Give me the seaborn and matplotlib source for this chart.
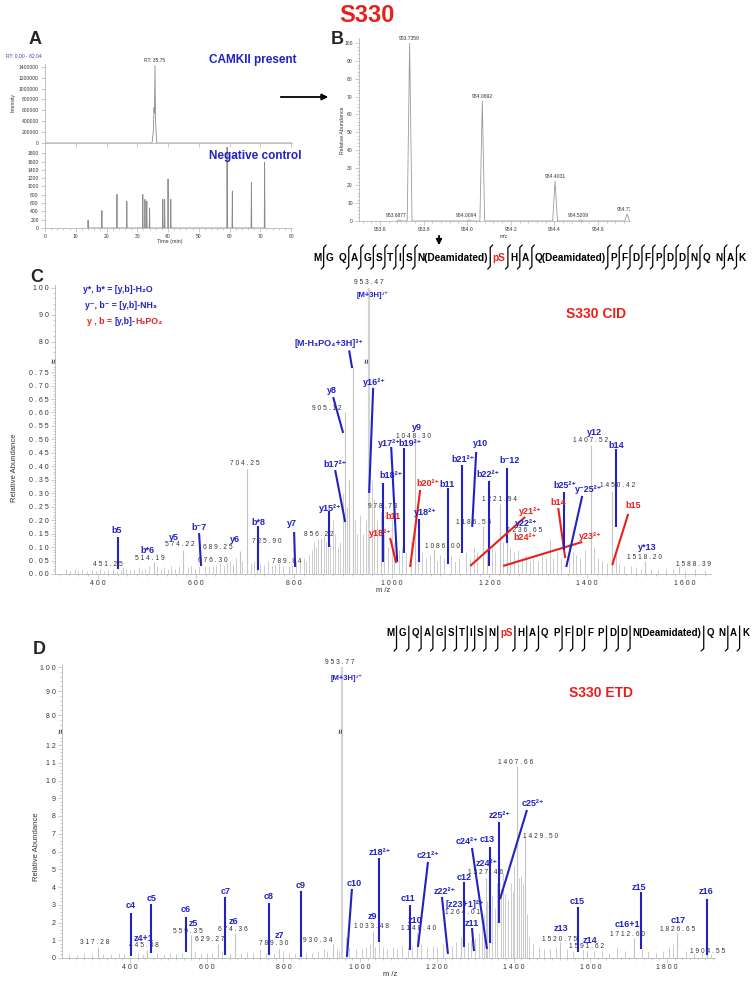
import numpy as np
import pandas as pd
import matplotlib
matplotlib.use("Agg")
import matplotlib.pyplot as plt
import seaborn as sns
from matplotlib.lines import Line2D
from matplotlib.patches import FancyArrowPatch
from matplotlib.transforms import blended_transform_factory

NAN = float("nan")
# ============================ DATA ============================
# ---- Panel A: extracted ion chromatograms ----
a_top_time = [0.0, 34.8, 35.2, 35.45, 35.6, 35.75, 35.95, 36.3, 82.0]
a_top_int = [0, 0, 200000, 650000, 550000, 1420000, 400000, 0, 0]
a_neg_time = [14.0, 18.5, 23.4, 26.6, 31.8, 32.5, 33.1, 34.0, 38.3, 38.9, 40.0, 40.9, 59.2, 60.9, 67.1, 71.4]
a_neg_int = [190, 420, 810, 645, 810, 690, 650, 480, 690, 690, 1180, 690, 1950, 890, 1100, 1580]
a_xticks = [0, 10, 20, 30, 40, 50, 60, 70, 80]
a_top_yticks = [0, 200000, 400000, 600000, 800000, 1000000, 1200000, 1400000]
a_neg_yticks = [0, 200, 400, 600, 800, 1000, 1200, 1400, 1600, 1800]

# ---- Panel B: precursor isotope cluster ----
b_mz = [953.6877, 953.7359, 954.0094, 954.0692, 954.4031, 954.5209, 954.7336]
b_abund = [0.6, 100.0, 0.6, 67.5, 22.5, 0.6, 4.0]
b_xticks = [953.6, 953.8, 954.0, 954.2, 954.4, 954.6]
b_yticks = [0, 10, 20, 30, 40, 50, 60, 70, 80, 90, 100]

# ---- Panel C: CID spectrum ----
c_main_mz = [451.25, 514.19, 574.22, 676.30, 689.25, 704.25, 725.90, 789.84, 856.22, 905.12, 913.0,
             920.8, 978.73, 1048.30, 1086.00, 1186.54, 1221.94, 1236.65, 1407.52, 1450.42, 1518.20, 1588.39]
c_main_int = [0.025, 0.045, 0.09, 0.035, 0.085, 0.39, 0.10, 0.03, 0.13, 0.60, 0.35,
              0.77, 0.23, 0.50, 0.09, 0.18, 0.26, 0.15, 0.48, 0.31, 0.05, 0.025]
c_precursor_mz = 953.47
c_precursor_int = 100.0
c_minor_peaks = [
    (335, .02), (342, .012), (352, .018), (360, .01), (368, .02), (378, .012), (388, .016), (396, .01),
    (405, .02), (412, .012), (420, .015), (430, .02), (438, .01), (446, .015), (458, .02), (466, .014),
    (474, .018), (483, .025), (490, .015), (497, .02), (505, .03), (521, .03), (528, .02), (535, .025),
    (542, .02), (550, .03), (558, .02), (565, .03), (583, .025), (590, .03), (598, .02), (606, .03),
    (618, .03), (626, .025), (634, .03), (642, .035), (650, .04), (658, .03), (664, .04), (670, .05),
    (682, .06), (695, .05), (712, .04), (718, .05), (732, .04), (740, .035), (748, .05), (756, .03),
    (762, .035), (770, .04), (778, .03), (797, .035), (805, .05), (812, .04), (820, .06), (826, .05),
    (832, .07), (838, .09), (842, .12), (846, .10), (850, .13), (862, .14), (866, .12), (870, .10),
    (875, .11), (880, .20), (884, .15), (890, .10), (895, .12), (900, .30), (909, .25), (925, .20),
    (930, .15), (936, .22), (942, .15), (948, .20), (960, .35), (965, .28), (970, .20), (985, .15),
    (992, .10), (1000, .20), (1005, .12), (1015, .09), (1022, .10), (1030, .08), (1040, .12), (1055, .10),
    (1062, .08), (1070, .06), (1078, .07), (1092, .05), (1100, .07), (1108, .06), (1122, .07), (1130, .05),
    (1138, .06), (1152, .08), (1160, .06), (1168, .10), (1175, .08), (1195, .09), (1205, .10), (1212, .08),
    (1228, .12), (1243, .10), (1250, .08), (1258, .09), (1266, .06), (1275, .07), (1283, .05), (1290, .06),
    (1300, .05), (1308, .07), (1315, .06), (1324, .13), (1330, .06), (1338, .08), (1346, .06), (1362, .10),
    (1370, .08), (1378, .07), (1386, .06), (1395, .09), (1414, .10), (1422, .06), (1430, .05), (1440, .04),
    (1458, .07), (1465, .04), (1475, .03), (1490, .03), (1500, .025), (1510, .02), (1530, .02), (1545, .015),
    (1560, .02), (1575, .02), (1600, .015), (1620, .02), (1640, .015)]
c_value_labels = ["451.25", "514.19", "574.22", "676.30", "689.25", "704.25", "725.90", "789.84", "856.22",
                  "905.12", "953.47", "978.73", "1048.30", "1086.00", "1186.54", "1221.94", "1236.65",
                  "1407.52", "1450.42", "1518.20", "1588.39"]
c_value_x = [420.4, 506.3, 567.7, 635.2, 645.4, 700.6, 745.6, 786.5, 851.9, 868.3, 954.2, 982.8, 1044.2,
             1103.5, 1166.9, 1220.0, 1271.2, 1406.1, 1461.3, 1516.6, 1616.8]
c_value_y = [0.037, 0.059, 0.108, 0.052, 0.097, 0.412, 0.119, 0.048, 0.145, 0.613, 101.9, 0.249, 0.512,
             0.104, 0.193, 0.278, 0.163, 0.494, 0.330, 0.063, 0.037]
# (label, colour, label m/z, label y, line start m/z, y, line end m/z, y)
c_ions = [
    ("b5", "B", 438.9, 0.163, 440.9, 0.137, 440.9, 0.019),
    ("b*6", "B", 500.2, 0.089, NAN, NAN, NAN, NAN),
    ("y5", "B", 555.4, 0.137, NAN, NAN, NAN, NAN),
    ("b⁻7", "B", 606.5, 0.171, 606.5, 0.152, 610.6, 0.030),
    ("y6", "B", 680.2, 0.130, NAN, NAN, NAN, NAN),
    ("b*8", "B", 727.2, 0.193, 727.2, 0.178, 727.2, 0.015),
    ("y7", "B", 796.7, 0.186, 800.8, 0.156, 802.9, 0.026),
    ("y15²⁺", "B", 874.4, 0.245, 872.4, 0.234, 872.4, 0.100),
    ("b17²⁺", "B", 884.7, 0.408, 884.7, 0.386, 905.1, 0.193),
    ("y8", "B", 878.5, 0.680, 880.6, 0.657, 901.0, 0.524),
    ("[M-H₃PO₄+3H]³⁺", "B", 872.4, 79.3, 913.3, 76.7, 919.4, 0.765),
    ("y16²⁺", "B", 964.4, 0.713, 962.4, 0.691, 954.2, 0.301),
    ("[M+3H]³⁺", "B", 960.3, 97.0, NAN, NAN, NAN, NAN),
    ("y17²⁺", "B", 995.0, 0.486, 999.2, 0.472, 1011.5, 0.045),
    ("b19²⁺", "B", 1038.0, 0.486, 1025.8, 0.468, 1025.8, 0.078),
    ("y9", "B", 1052.4, 0.546, NAN, NAN, NAN, NAN),
    ("b18²⁺", "B", 999.0, 0.364, 982.8, 0.338, 982.8, 0.045),
    ("b11", "R", 1003.3, 0.212, NAN, NAN, NAN, NAN),
    ("y18²⁺", "R", 976.7, 0.149, 997.1, 0.134, 1009.4, 0.041),
    ("b20²⁺", "R", 1074.8, 0.338, 1058.5, 0.312, 1038.0, 0.026),
    ("y18²⁺", "B", 1068.7, 0.227, 1056.4, 0.204, 1056.4, 0.045),
    ("b11", "B", 1113.7, 0.334, 1115.7, 0.319, 1115.7, 0.037),
    ("b21²⁺", "B", 1146.4, 0.427, 1144.4, 0.405, 1144.4, 0.078),
    ("y10", "B", 1181.2, 0.483, 1173.0, 0.453, 1164.8, 0.175),
    ("b22²⁺", "B", 1197.5, 0.371, 1199.6, 0.345, 1199.6, 0.030),
    ("b⁻12", "B", 1240.5, 0.420, 1236.4, 0.394, 1236.4, 0.115),
    ("y21²⁺", "R", 1283.4, 0.234, 1273.2, 0.212, 1160.7, 0.030),
    ("y22²⁺", "B", 1275.3, 0.189, NAN, NAN, NAN, NAN),
    ("b24²⁺", "R", 1273.2, 0.134, NAN, NAN, NAN, NAN),
    ("y23²⁺", "R", 1406.1, 0.141, 1389.8, 0.119, 1228.2, 0.030),
    ("b14", "R", 1340.7, 0.264, 1340.7, 0.245, 1355.0, 0.059),
    ("b25²⁺", "B", 1355.0, 0.330, 1353.0, 0.304, 1353.0, 0.089),
    ("y⁻25²⁺", "B", 1402.0, 0.312, 1389.8, 0.290, 1357.1, 0.026),
    ("y12", "B", 1414.3, 0.524, NAN, NAN, NAN, NAN),
    ("b14", "B", 1459.3, 0.479, 1459.3, 0.464, 1459.3, 0.175),
    ("b15", "R", 1494.1, 0.253, 1483.8, 0.223, 1451.1, 0.033),
    ("y*13", "B", 1522.7, 0.097, NAN, NAN, NAN, NAN),
]
c_xticks = [400, 600, 800, 1000, 1200, 1400, 1600]
c_yticks = [0.00, 0.05, 0.10, 0.15, 0.20, 0.25, 0.30, 0.35, 0.40, 0.45, 0.50, 0.55, 0.60, 0.65, 0.70, 0.75,
            80, 90, 100]
c_seq = ["M", "G", "Q", "A", "G", "S", "T", "I", "S", "N(Deamidated)", "pS", "H", "A", "Q(Deamidated)",
         "P", "F", "D", "F", "P", "D", "D", "N", "Q", "N", "A", "K"]
c_seq_cuts = [1, 0, 1, 1, 1, 1, 1, 1, 1, 1, 1, 1, 1, 1, 1, 1, 1, 1, 1, 1, 1, 1, 0, 1, 1]

# ---- Panel D: ETD spectrum ----
d_main_mz = [317.28, 445.38, 559.35, 629.27, 674.36, 789.30, 930.34, 1033.48, 1148.40, 1264.01,
             1327.46, 1407.66, 1429.50, 1520.75, 1591.62, 1712.60, 1826.65, 1904.55]
d_main_int = [0.6, 0.45, 1.3, 0.8, 1.4, 0.5, 0.8, 1.5, 1.4, 1.2, 4.5, 10.8, 6.8, 0.9, 0.4, 1.1, 1.4, 0.3]
d_precursor_mz = 952.9
d_precursor_int = 100.0
d_minor_peaks = [
    (240, .2), (262, .15), (280, .3), (300, .2), (330, .25), (350, .2), (372, .3), (385, .2), (420, .3),
    (435, .25), (470, .3), (490, .2), (505, .3), (520, .25), (535, .3), (570, .4), (585, .3), (600, .3),
    (615, .3), (640, .4), (660, .3), (690, .3), (705, .35), (720, .3), (740, .5), (755, .3), (775, .3),
    (800, .4), (815, .3), (830, .3), (860, .3), (875, .3), (890, .4), (905, .5), (915, .4), (940, .5),
    (945, .4), (962, 1.2), (970, .6), (990, .5), (1005, .5), (1015, .6), (1025, .8), (1040, .6),
    (1049, .9), (1060, .6), (1070, .5), (1085, .6), (1095, .5), (1110, .7), (1125, .6), (1135, .7),
    (1160, .8), (1175, .6), (1190, .7), (1200, .6), (1215, .8), (1240, .7), (1250, .9), (1270, 1.0),
    (1280, .9), (1290, 1.0), (1300, 1.1), (1310, 1.4), (1318, 1.8), (1322, 2.5), (1330, 3.2),
    (1335, 2.7), (1345, 3.5), (1352, 2.8), (1358, 4.2), (1366, 3.9), (1372, 4.8), (1378, 3.6),
    (1385, 3.3), (1392, 4.2), (1398, 3.8), (1402, 5.2), (1413, 4.5), (1419, 4.6), (1424, 4.2),
    (1434, 2.5), (1440, 1.2), (1450, .8), (1465, .6), (1480, .5), (1495, .5), (1510, .6), (1540, .5),
    (1555, .4), (1580, .5), (1610, .4), (1630, .4), (1650, .3), (1670, .6), (1690, .4), (1735, .5),
    (1750, .4), (1770, .3), (1790, .4), (1805, .6), (1815, .8), (1850, .4), (1870, .3), (1890, .3),
    (1915, .2)]
d_value_labels = ["317.28", "445.38", "559.35", "629.27", "674.36", "789.30", "930.34", "953.77", "1033.48",
                  "1148.40", "1264.01", "1327.46", "1407.66", "1429.50", "1520.75", "1591.62", "1712.60",
                  "1826.65", "1904.55"]
d_value_x = [308.8, 436.5, 551.2, 608.6, 668.5, 775.4, 890.1, 947.4, 1030.9, 1153.4, 1268.1, 1328.0,
             1406.3, 1471.4, 1521.0, 1591.4, 1698.2, 1828.6, 1906.8]
d_value_y = [0.90, 0.70, 1.52, 1.07, 1.58, 0.79, 1.01, 102.1, 1.75, 1.69, 2.59, 4.79, 10.99, 6.82, 1.07,
             0.62, 1.35, 1.63, 0.39]
d_ions = [
    ("c4", "B", 402.6, 2.93, 402.6, 2.54, 402.6, 0.11),
    ("z4+1", "B", 436.5, 1.12, NAN, NAN, NAN, NAN),
    ("c5", "B", 457.4, 3.38, 454.7, 3.04, 454.7, 0.28),
    ("c6", "B", 546.0, 2.76, 546.0, 2.31, 546.0, 0.34),
    ("z5", "B", 564.2, 1.97, NAN, NAN, NAN, NAN),
    ("c7", "B", 650.3, 3.72, 647.7, 3.44, 647.7, 0.17),
    ("z6", "B", 671.1, 2.03, NAN, NAN, NAN, NAN),
    ("c8", "B", 762.4, 3.49, 762.4, 3.10, 762.4, 0.17),
    ("z7", "B", 788.4, 1.24, NAN, NAN, NAN, NAN),
    ("c9", "B", 845.8, 4.11, 845.8, 3.77, 845.8, 0.06),
    ("c10", "B", 983.9, 4.17, 978.7, 3.89, 965.7, 0.06),
    ("z9", "B", 1030.9, 2.31, NAN, NAN, NAN, NAN),
    ("z18²⁺", "B", 1051.7, 5.97, 1049.1, 5.63, 1049.1, 0.90),
    ("c11", "B", 1124.7, 3.38, 1129.9, 2.99, 1129.9, 0.45),
    ("z10", "B", 1143.0, 2.14, NAN, NAN, NAN, NAN),
    ("c21²⁺", "B", 1176.9, 5.75, 1176.9, 5.41, 1150.8, 0.62),
    ("z22²⁺", "B", 1221.2, 3.72, 1213.3, 3.44, 1229.0, 0.23),
    ("[z23+1]²⁺", "B", 1273.3, 3.04, NAN, NAN, NAN, NAN),
    ("c12", "B", 1271.0, 4.56, 1270.7, 4.28, 1270.7, 0.62),
    ("z11", "B", 1291.6, 1.97, 1291.6, 1.69, 1296.8, 0.39),
    ("c24²⁺", "B", 1278.5, 6.54, 1291.6, 6.20, 1330.7, 0.51),
    ("c13", "B", 1330.7, 6.70, 1338.5, 6.25, 1338.5, 0.85),
    ("z24²⁺", "B", 1330.7, 5.30, NAN, NAN, NAN, NAN),
    ("z25²⁺", "B", 1364.6, 8.00, 1362.0, 7.66, 1362.0, 1.97),
    ("c25²⁺", "B", 1450.6, 8.73, 1434.9, 8.34, 1364.6, 3.32),
    ("z13", "B", 1523.6, 1.69, NAN, NAN, NAN, NAN),
    ("c15", "B", 1565.3, 3.21, 1567.9, 2.87, 1567.9, 0.34),
    ("z14", "B", 1599.2, 1.01, NAN, NAN, NAN, NAN),
    ("c16+1", "B", 1695.6, 1.86, NAN, NAN, NAN, NAN),
    ("z15", "B", 1726.9, 4.00, 1732.1, 3.72, 1732.1, 0.51),
    ("c17", "B", 1828.6, 2.14, NAN, NAN, NAN, NAN),
    ("z16", "B", 1901.5, 3.72, 1904.1, 3.32, 1904.1, 0.17),
    ("[M+3H]³⁺", "B", 965.7, 95.4, NAN, NAN, NAN, NAN),
]
d_xticks = [400, 600, 800, 1000, 1200, 1400, 1600, 1800]
d_yticks = [0, 1, 2, 3, 4, 5, 6, 7, 8, 9, 10, 11, 12, 80, 90, 100]
d_seq = ["M", "G", "Q", "A", "G", "S", "T", "I", "S", "N", "pS", "H", "A", "Q", "P", "F", "D", "F", "P",
         "D", "D", "N(Deamidated)", "Q", "N", "A", "K"]
d_seq_cuts = [1, 1, 1, 1, 1, 1, 1, 1, 1, 1, 1, 1, 1, 0, 1, 1, 1, 0, 1, 1, 1, 1, 0, 1, 1]

# ============================ STYLE ============================
W, H, DPI = 752, 983, 100
BLUE = "#2121c4"
RED = "#e8201c"
GRAY = "#c4c4c4"
COL = {"B": BLUE, "R": RED}
FONT = ["Liberation Sans", "DejaVu Sans"]

sns.set_theme(style="white")
plt.rcParams["font.family"] = FONT
plt.rcParams["axes.linewidth"] = 0.6

fig = plt.figure(figsize=(W / DPI, H / DPI), dpi=DPI)
fig.patch.set_facecolor("white")


def fx(px):
    return px / W


def fy(py):
    return 1 - py / H


def axes_px(l, t, r, b):
    return fig.add_axes([l / W, 1 - b / H, (r - l) / W, (b - t) / H])


def ftext(px, py, s, **kw):
    return fig.text(fx(px), fy(py), s, **kw)


def sp(s):
    return " ".join(s)


def style_axes(ax, labelsize=5, col="#b5b5b5"):
    ax.set_facecolor("none")
    ax.grid(False)
    for s in ["top", "right"]:
        ax.spines[s].set_visible(False)
    for s in ["left", "bottom"]:
        ax.spines[s].set_color(col)
        ax.spines[s].set_linewidth(0.6)
    ax.tick_params(which="both", direction="out", color=col, width=0.5, labelcolor="#333333",
                   left=True, bottom=True, labelsize=labelsize, pad=1.5)
    ax.tick_params(which="major", length=3)
    ax.tick_params(which="minor", length=1.5)


def sticks(xs, hs, hw):
    px, py = [], []
    for x, h in zip(xs, hs):
        px += [x - hw, x, x + hw]
        py += [0, h, 0]
    return pd.DataFrame({"x": px, "y": py})


# ============================ TITLE ============================
ftext(367, 16, "S330", color=RED, fontsize=17, fontweight="bold", ha="center", va="center")

# ============================ PANEL A ============================
ftext(35, 40, "A", fontsize=13, fontweight="bold", ha="center", va="center")
axA1 = axes_px(45, 64, 292, 143)
sns.lineplot(data=pd.DataFrame({"t": a_top_time, "i": a_top_int}), x="t", y="i", ax=axA1,
             color="#8c8c8c", lw=0.6, estimator=None, sort=False)
axA1.set_xlim(0, 80.3)
axA1.set_ylim(0, 1.45e6)
style_axes(axA1, labelsize=3.6)
axA1.set_yticks(a_top_yticks)
axA1.set_yticklabels([str(v) for v in a_top_yticks])
axA1.set_xticks(a_xticks)
axA1.set_xticklabels([])
axA1.set_xlabel("")
axA1.set_ylabel("")
axA1.text(35.75, 1.46e6, "RT: 35.75", fontsize=3.6, color="#333333", ha="center", va="bottom")

axA2 = axes_px(45, 147, 292, 228)
sns.lineplot(data=sticks(a_neg_time, a_neg_int, 0.12), x="x", y="y", ax=axA2,
             color="#8c8c8c", lw=0.6, estimator=None, sort=False)
axA2.set_xlim(0, 80.3)
axA2.set_ylim(0, 1950)
style_axes(axA2, labelsize=3.6)
axA2.set_yticks(a_neg_yticks)
axA2.set_yticklabels([str(v) for v in a_neg_yticks])
axA2.set_xticks(a_xticks)
axA2.set_xticklabels([str(v) for v in a_xticks])
axA2.set_xticks(np.arange(0, 81, 2), minor=True)
axA2.set_xlabel("")
axA2.set_ylabel("")
ftext(170, 241, "Time (min)", fontsize=3.8, color="#333333", ha="center", va="center")
ftext(13, 103, "Intensity", fontsize=3.6, color="#333333", rotation=90, ha="center", va="center")
ftext(6, 57, "RT: 0.00 - 82.04", fontsize=3.6, color="#4040b0", ha="left", va="center")
ftext(209, 60, "CAMKII present", fontsize=8.5, fontweight="bold", color=BLUE, ha="left", va="center")
ftext(209, 156, "Negative control", fontsize=8.5, fontweight="bold", color=BLUE, ha="left", va="center")

# arrows
fig.add_artist(FancyArrowPatch((fx(278), fy(97)), (fx(331), fy(97)), transform=fig.transFigure,
                               arrowstyle="-|>", mutation_scale=9, lw=1.3, color="black"))
fig.add_artist(FancyArrowPatch((fx(439), fy(233)), (fx(439), fy(248)), transform=fig.transFigure,
                               arrowstyle="-|>", mutation_scale=8, lw=1.3, color="black"))

# ============================ PANEL B ============================
ftext(337, 40, "B", fontsize=13, fontweight="bold", ha="center", va="center")
axB = axes_px(359, 38, 630, 221)
sns.lineplot(data=sticks(b_mz, b_abund, 0.011), x="x", y="y", ax=axB,
             color="#9a9a9a", lw=0.6, estimator=None, sort=False)
axB.set_xlim(953.5037, 954.7468)
axB.set_ylim(0, 103)
style_axes(axB, labelsize=3.6)
axB.set_xticks(b_xticks)
axB.set_xticklabels([f"{v:.1f}" for v in b_xticks])
axB.set_xticks(np.arange(953.52, 954.75, 0.04), minor=True)
axB.set_yticks(b_yticks)
axB.set_yticklabels([str(v) for v in b_yticks])
axB.set_yticks(np.arange(0, 101, 2), minor=True)
axB.set_xlabel("")
axB.set_ylabel("")
for mz, ab in zip(b_mz, b_abund):
    off = -0.012 if ab < 1 else 0.0
    axB.text(mz + off, ab + 1.2, f"{mz:.4f}", fontsize=3.6, color="#333333", ha="center", va="bottom",
             clip_on=(mz > 954.7))
ftext(504, 237, "m/z", fontsize=3.6, color="#333333", ha="center", va="center")
ftext(343, 130, "Relative Abundance", fontsize=3.8, color="#333333", rotation=90, ha="center", va="center")


# ============================ SEQUENCES ============================
def draw_sequence(tokens, cuts, x0, x1, yc, fs, mtop, mbot, top_hook=True):
    texts = []
    for tok in tokens:
        t = ftext(0, yc, tok, fontsize=fs, fontweight="bold", color=RED if tok == "pS" else "black",
                  ha="left", va="center")
        texts.append(t)
    r = fig.canvas.get_renderer()
    widths = [t.get_window_extent(r).width for t in texts]
    gap = (x1 - x0 - sum(widths)) / (len(tokens) - 1)
    x = x0
    for i, t in enumerate(texts):
        t.set_x(fx(x))
        x += widths[i]
        if i < len(tokens) - 1:
            if cuts[i]:
                mx = x + gap / 2
                xs = [mx, mx, mx - 2.5]
                ys = [mtop, mbot - 2.5, mbot]
                if top_hook:
                    xs = [mx + 2.5] + xs
                    ys = [mtop - 2] + [mtop + 0.5] + ys[1:]
                fig.add_artist(Line2D([fx(v) for v in xs], [fy(v) for v in ys], transform=fig.transFigure,
                                      color="black", lw=0.9))
            x += gap


draw_sequence(c_seq, c_seq_cuts, 313, 746, 258, 7.2, 247, 269, top_hook=True)
draw_sequence(d_seq, d_seq_cuts, 386, 749, 633, 7.0, 626, 651, top_hook=False)


# ============================ SPECTRA ============================
def spectrum_axes(l, t, r, b, yk, vk):
    ax = axes_px(l, t, r, b)
    fwd = lambda y: np.interp(y, yk, vk)
    inv = lambda v: np.interp(v, vk, yk)
    ax.set_yscale("function", functions=(fwd, inv))
    return ax


def draw_spectrum(ax, main_mz, main_int, minor, prec_mz, prec_int, ions, vlab, vx, vy, lab_fs):
    mn_x = [p[0] for p in minor]
    mn_y = [p[1] for p in minor]
    ax.vlines(mn_x, 0, mn_y, color=GRAY, lw=0.6, zorder=1)
    ax.vlines(main_mz, 0, main_int, color=GRAY, lw=0.8, zorder=1)
    ax.vlines([prec_mz], 0, [prec_int], color="#d4d4d4", lw=1.6, zorder=1)
    for s, x, y in zip(vlab, vx, vy):
        ax.text(x, y, sp(s), fontsize=4.8, color="#333333", ha="center", va="center", zorder=3)
    for lab, c, lx, ly, x1, y1, x2, y2 in ions:
        fs = lab_fs - 1 if lab.startswith("[M+3H]") else lab_fs
        ax.text(lx, ly, lab, fontsize=fs, fontweight="bold", color=COL[c], ha="center", va="center", zorder=4)
        if not np.isnan(x1):
            ax.plot([x1, x2], [y1, y2], color=COL[c], lw=1.5, zorder=3, solid_capstyle="butt")


# ---- Panel C ----
ftext(37, 277, "C", fontsize=13, fontweight="bold", ha="center", va="center")
c_yk = [0, 0.78, 75, 103]
c_vk = [0, 210, 219, 294.6]
axC = spectrum_axes(55, 574 - 294.6, 711, 574, c_yk, c_vk)
axC.set_xlim(312, 1653)
axC.set_ylim(0, 103)
draw_spectrum(axC, c_main_mz, c_main_int, c_minor_peaks, c_precursor_mz, c_precursor_int, c_ions,
              c_value_labels, c_value_x, c_value_y, 6.5)
style_axes(axC, labelsize=5)
axC.spines["left"].set_bounds(0, 101)
axC.set_xticks(c_xticks)
axC.set_xticklabels([sp(str(v)) for v in c_xticks])
axC.set_xticks(np.arange(320, 1650, 20), minor=True)
axC.set_yticks(c_yticks)
axC.set_yticklabels([sp(f"{v:.2f}") if v < 1 else sp(str(int(v))) for v in c_yticks])
axC.set_yticks(list(np.round(np.arange(0, 0.78, 0.01), 2)) + list(np.arange(76, 102, 2)), minor=True)
axC.yaxis.set_minor_formatter(matplotlib.ticker.NullFormatter())
trC = blended_transform_factory(axC.transAxes, axC.transData)
axC.text(0, 30, "≈", transform=trC, rotation=90, fontsize=6, fontweight="bold", ha="center", va="center")
axC.text(c_precursor_mz, 30, "≈", rotation=90, fontsize=6, fontweight="bold", ha="center", va="center")
ftext(15, 468, "Relative Abundance", fontsize=5.5, color="#333333", rotation=90, ha="center", va="center")
ftext(383, 590, "m /z", fontsize=5.5, color="#333333", ha="center", va="center")

# legend of panel C
ftext(83, 289, "y*, b* = [y,b]-H₂O", fontsize=6.3, fontweight="bold", color=BLUE, ha="left", va="center")
ftext(85, 305, "y⁻, b⁻ = [y,b]-NH₃", fontsize=6.3, fontweight="bold", color=BLUE, ha="left", va="center")
rend = fig.canvas.get_renderer()
xx = 87
for part, col in [("y , b = ", RED), ("[y,b]-", BLUE), ("H₃PO₄", RED)]:
    t = ftext(xx, 321, part, fontsize=6.3, fontweight="bold", color=col, ha="left", va="center")
    xx += t.get_window_extent(rend).width
ftext(596, 314, "S330 CID", fontsize=10, fontweight="bold", color=RED, ha="center", va="center")

# ---- Panel D ----
ftext(39, 650, "D", fontsize=13, fontweight="bold", ha="center", va="center")
d_yk = [0, 12.6, 75, 102]
d_vk = [0, 223.65, 231, 295.8]
axD = spectrum_axes(62, 958 - 295.8, 715, 958, d_yk, d_vk)
axD.set_xlim(223, 1925)
axD.set_ylim(0, 102)
draw_spectrum(axD, d_main_mz, d_main_int, d_minor_peaks, d_precursor_mz, d_precursor_int, d_ions,
              d_value_labels, d_value_x, d_value_y, 6.5)
style_axes(axD, labelsize=5)
axD.spines["left"].set_bounds(0, 101)
axD.set_xticks(d_xticks)
axD.set_xticklabels([sp(str(v)) for v in d_xticks])
axD.set_xticks(np.arange(240, 1925, 20), minor=True)
axD.set_yticks(d_yticks)
axD.set_yticklabels([sp(str(v)) for v in d_yticks])
axD.set_yticks(list(np.round(np.arange(0, 12.6, 0.2), 1)) + list(np.arange(76, 102, 2)), minor=True)
axD.yaxis.set_minor_formatter(matplotlib.ticker.NullFormatter())
trD = blended_transform_factory(axD.transAxes, axD.transData)
axD.text(0, 40, "≈", transform=trD, rotation=90, fontsize=6, fontweight="bold", ha="center", va="center")
axD.text(d_precursor_mz, 40, "≈", rotation=90, fontsize=6, fontweight="bold", ha="center", va="center")
ftext(36, 847, "Relative Abundance", fontsize=5.5, color="#333333", rotation=90, ha="center", va="center")
ftext(390, 975, "m /z", fontsize=5.5, color="#333333", ha="center", va="center")
ftext(601, 693, "S330 ETD", fontsize=10, fontweight="bold", color=RED, ha="center", va="center")

fig.savefig("out.png", dpi=DPI, facecolor="white")
